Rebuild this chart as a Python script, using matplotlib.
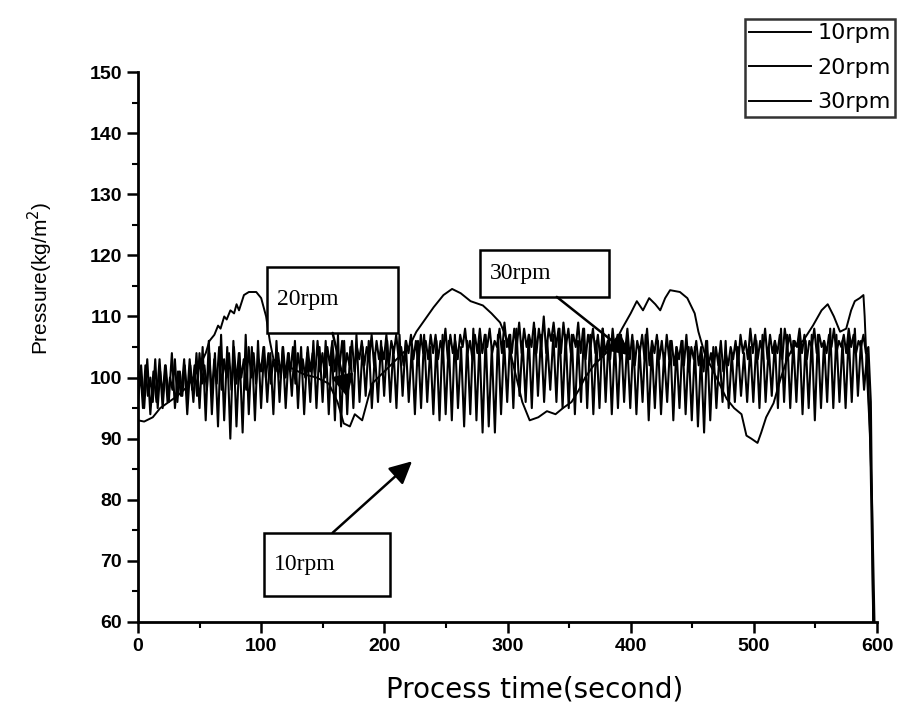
import numpy as np
import matplotlib
matplotlib.use("Agg")
import matplotlib.pyplot as plt
from matplotlib.patches import Rectangle

plt.rcParams['font.family'] = ['Liberation Sans', 'DejaVu Sans']

# ---------------- data ----------------
# 10rpm : large fast oscillation, samples 0..597 s
rpm10_values = [
    97, 102, 95, 103, 94, 101, 96, 103, 95, 102, 96, 104, 95, 101, 97, 103, 94, 102, 96, 104,
    95, 105, 93, 106, 94, 104, 92, 107, 93, 105, 90, 106, 92, 104, 91, 107, 94, 105, 93, 106,
    95, 105, 96, 104, 94, 106, 96, 105, 95, 104, 97, 106, 95, 105, 94, 104, 96, 106, 95, 105,
    96, 106, 94, 105, 93, 107, 92, 106, 94, 105, 95, 107, 96, 105, 97, 106, 95, 104, 96, 106,
    97, 106, 96, 105, 95, 107, 97, 106, 96, 105, 94, 106, 95, 107, 96, 105, 94, 106, 93, 107,
    94, 106, 93, 107, 95, 105, 92, 106, 94, 108, 93, 106, 91, 107, 92, 105, 91, 107, 94, 106,
    96, 107, 95, 108, 97, 106, 96, 107, 95, 108, 97, 107, 96, 106, 98, 107, 96, 108, 95, 107,
    95, 107, 94, 106, 96, 108, 95, 107, 94, 106, 95, 108, 96, 107, 94, 106, 95, 107, 96, 106,
    95, 106, 94, 105, 96, 107, 93, 105, 95, 106, 94, 104, 96, 106, 93, 105, 95, 106, 94, 105,
    93, 105, 92, 104, 91, 106, 93, 105, 95, 104, 96, 106, 95, 104, 96, 105, 97, 104, 96, 105,
    96, 106, 95, 107, 96, 105, 97, 106, 95, 108, 96, 107, 95, 106, 96, 107, 94, 106, 95, 107,
    93, 107, 95, 106, 96, 108, 95, 107, 96, 106, 95, 107, 96, 108, 97, 106, 98, 104, 90, 60,
]

# 30rpm : smaller, denser oscillation in the upper band, samples 0..597 s
rpm30_values = [
    96, 101, 95, 102, 97, 100, 96, 103, 95, 101, 97, 102, 96, 100, 98, 103, 96, 101, 97, 102,
    97, 103, 98, 102, 97, 104, 99, 102, 98, 104, 97, 103, 99, 105, 98, 103, 100, 104, 98, 105,
    99, 104, 100, 103, 98, 105, 100, 104, 99, 103, 101, 105, 100, 104, 99, 103, 101, 104, 100, 105,
    100, 104, 101, 105, 99, 104, 101, 103, 100, 105, 101, 104, 100, 106, 101, 104, 100, 105, 102, 106,
    101, 105, 102, 106, 101, 104, 102, 106, 101, 105, 103, 106, 102, 105, 103, 107, 102, 106, 103, 105,
    103, 107, 102, 106, 104, 107, 103, 105, 102, 106, 104, 107, 103, 106, 102, 107, 104, 106, 103, 107,
    104, 107, 103, 106, 104, 108, 103, 107, 104, 106, 103, 107, 105, 108, 104, 106, 103, 107, 104, 108,
    104, 107, 105, 108, 104, 106, 105, 108, 104, 109, 105, 107, 104, 108, 105, 109, 104, 108, 105, 107,
    105, 109, 104, 108, 105, 110, 104, 108, 106, 109, 105, 108, 104, 109, 105, 108, 104, 107, 105, 109,
    104, 108, 103, 107, 105, 108, 104, 107, 103, 108, 104, 106, 103, 108, 104, 107, 103, 106, 104, 108,
    103, 107, 102, 106, 104, 107, 103, 108, 102, 106, 104, 107, 103, 106, 102, 107, 103, 106, 102, 105,
    103, 106, 102, 107, 101, 105, 103, 106, 102, 105, 101, 106, 102, 104, 101, 105, 102, 106, 101, 104,
    102, 105, 103, 106, 102, 107, 104, 106, 103, 108, 104, 107, 103, 106, 104, 108, 103, 107, 104, 106,
    104, 107, 103, 108, 105, 107, 104, 106, 105, 108, 104, 107, 103, 106, 105, 108, 104, 107, 105, 106,
    104, 107, 105, 108, 104, 106, 105, 107, 104, 108, 105, 107, 104, 106, 105, 107, 104, 105, 96, 60,
]

# 20rpm : slowly wandering curve
rpm20_time = [0, 5, 12, 18, 25, 32, 40, 48, 55, 58, 62, 65, 67, 70, 72, 75, 78, 80, 82, 86,
              90, 96, 100, 104, 107, 110, 115, 125, 135, 145, 155, 162, 167, 172, 176, 182, 186, 190, 200, 210,
              220, 226, 233, 240, 248, 255, 262, 270, 280, 287, 294, 300, 306, 312, 318, 325, 332, 339, 345, 352,
              358, 363, 370, 380, 388, 393, 400, 405, 410, 415, 420, 424, 428, 432, 440, 446, 452, 455, 460, 466,
              472, 478, 484, 490, 494, 498, 503, 506, 510, 516, 522, 527, 532, 540, 548, 555, 560, 565, 570, 575,
              579, 582, 586, 589, 590, 592, 594, 596, 598]
rpm20_values = [93, 92.8, 93.5, 95, 96, 97, 98.5, 101, 104, 106, 107, 108.5, 108, 110, 109.5, 111, 110.5, 112, 111, 113.5,
                114, 114, 113, 110, 106, 103, 102, 101.5, 100.5, 100, 99, 96, 92.5, 92, 94, 93, 96, 99, 101, 103,
                105, 107.5, 109.5, 111.5, 113.5, 114.5, 113.8, 112.5, 111.8, 110.5, 109, 106, 101, 96, 93, 93.5, 94.5, 94, 95, 96,
                98, 100, 102, 104, 106, 108, 110.5, 112.5, 111, 113, 112, 111, 113, 114.3, 114, 113, 110.5, 107.5, 104, 101.5,
                99, 96.5, 95, 94, 90.5, 90, 89.3, 91, 93.5, 95.8, 100, 103, 105, 106, 108.5, 111, 112, 110, 107.5, 108,
                111, 112.5, 113, 113.5, 110, 100, 92, 80, 60]

series_labels = ["10rpm", "20rpm", "30rpm"]
x_ticks = [0, 100, 200, 300, 400, 500, 600]
y_ticks = [60, 70, 80, 90, 100, 110, 120, 130, 140, 150]

# annotations: label, box (x0, y0, x1, y1), arrow start, arrow tip (data coords)
annot_labels = ["20rpm", "30rpm", "10rpm"]
annot_boxes = [(104.7, 107.3, 211, 118.1), (277.7, 113.2, 382.4, 120.9), (102, 64.3, 204.6, 74.6)]
annot_start = [(158, 107.3), (340, 113.2), (158, 74.6)]
annot_tip = [(170, 96.8), (400, 103.6), (222.5, 86.3)]

# ---------------- figure ----------------
fig = plt.figure(figsize=(8.98, 7.06), dpi=100)
ax = fig.add_axes([0.1537, 0.119, 0.8229, 0.779])

t10 = np.linspace(0, 597, len(rpm10_values))
t30 = np.linspace(0, 597, len(rpm30_values))

l1, = ax.plot(t10, rpm10_values, color='black', lw=1.5)
l2, = ax.plot(rpm20_time, rpm20_values, color='black', lw=1.4)
l3, = ax.plot(t30, rpm30_values, color='black', lw=1.5)

ax.set_xlim(0, 600)
ax.set_ylim(60, 150)
ax.set_xticks(x_ticks)
ax.set_yticks(y_ticks)
ax.set_xticks(np.arange(0, 601, 50), minor=True)
ax.set_yticks(np.arange(60, 151, 5), minor=True)
for s in ['top', 'right']:
    ax.spines[s].set_visible(False)
for s in ['left', 'bottom']:
    ax.spines[s].set_linewidth(2.0)
ax.tick_params(which='major', direction='out', length=8, width=1.8, labelsize=14)
ax.tick_params(which='minor', direction='out', length=4, width=1.5)
for lab in ax.get_xticklabels() + ax.get_yticklabels():
    lab.set_fontweight('bold')

ax.set_xlabel("Process time(second)", fontsize=20, family=['DejaVu Sans'])
ax.xaxis.label.set_va('baseline')
ax.xaxis.set_label_coords(0.537, -0.138)
ax.set_ylabel("Pressure(kg/m$^2$)", fontsize=15)
ax.yaxis.set_label_coords(-0.112, 0.625)

for lab, (x0, y0, x1, y1), st, tp in zip(annot_labels, annot_boxes, annot_start, annot_tip):
    ax.add_patch(Rectangle((x0, y0), x1 - x0, y1 - y0, fill=True, facecolor='white',
                           edgecolor='black', lw=1.8, zorder=5, clip_on=False))
    ax.text(x0 + 0.08 * (x1 - x0), (y0 + y1) / 2, lab, family=['Liberation Serif', 'DejaVu Serif'],
            fontsize=17, va='center', ha='left', zorder=6)
    ax.annotate('', xy=tp, xytext=st,
                arrowprops=dict(arrowstyle='-|>', mutation_scale=34, lw=1.8, color='black',
                                shrinkA=0, shrinkB=0), zorder=6)

leg = fig.legend([l1, l2, l3], series_labels, loc='upper left',
                 bbox_to_anchor=(745 / 898, 1 - 19 / 706),
                 prop={'family': 'DejaVu Sans', 'size': 16},
                 frameon=True, fancybox=False, edgecolor='black', handlelength=2.75,
                 handletextpad=0.3, borderpad=0.2, labelspacing=0.65, borderaxespad=0)
leg.get_frame().set_linewidth(1.8)
for h in leg.get_lines():
    h.set_linewidth(1.4)

fig.savefig("out.png", dpi=100)
